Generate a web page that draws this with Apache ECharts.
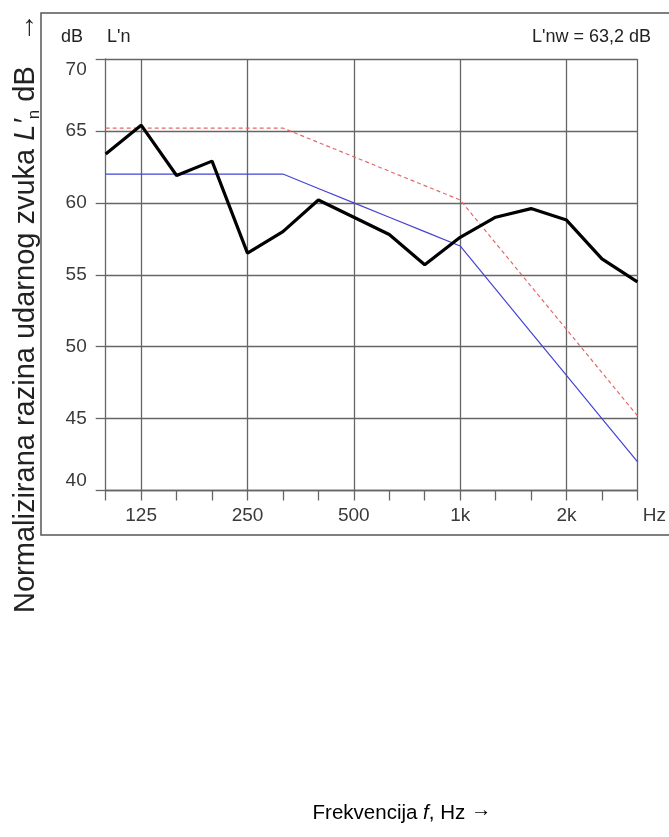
<!DOCTYPE html>
<html>
<head>
<meta charset="utf-8">
<script src="https://cdn.jsdelivr.net/npm/echarts@6/dist/echarts.min.js"></script>
<style>
html,body{margin:0;padding:0;background:#fff;}
#chart{width:669px;height:837px;}
</style>
</head>
<body>
<div id="chart"></div>
<script>
// Third-octave band centre frequencies (Hz)
var frequencies = ['100','125','160','200','250','315','400','500','630','800','1000','1250','1600','2000','2500','3150'];
// Tick labels shown under the x axis
var xTickLabels = ['', '125', '', '', '250', '', '', '500', '', '', '1k', '', '', '2k', '', 'Hz'];
// Measured normalized impact sound level L'n (dB)
var measuredLn = [63.4, 65.4, 61.9, 62.9, 56.5, 58.0, 60.2, 59.0, 57.8, 55.7, 57.6, 59.0, 59.6, 58.8, 56.1, 54.5];
// Reference curve (blue)
var referenceCurve = [62, 62, 62, 62, 62, 62, 61, 60, 59, 58, 57, 54, 51, 48, 45, 42];
// Shifted reference curve (red dashed)
var shiftedCurve = [65.2, 65.2, 65.2, 65.2, 65.2, 65.2, 64.2, 63.2, 62.2, 61.2, 60.2, 57.2, 54.2, 51.2, 48.2, 45.2];
// Y axis ticks
var yMin = 40, yMax = 70, yStep = 5;

var FONT = 'Liberation Sans, Arial, sans-serif';
var chart = echarts.init(document.getElementById('chart'), null, {renderer: 'canvas'});
var gridColor = '#666';
var labelColor = '#3a3a3a';

chart.setOption({
  animation: false,
  backgroundColor: '#fff',
  grid: {left: 105.7, right: 27.3, top: 59, bottom: 346.5, containLabel: false},
  xAxis: {
    type: 'category',
    data: frequencies,
    boundaryGap: false,
    axisLine: {show: true, lineStyle: {color: gridColor, width: 1.3}},
    axisTick: {show: true, interval: 0, length: 10, lineStyle: {color: gridColor, width: 1.3}},
    axisLabel: {
      interval: 0, margin: 16, color: labelColor, fontFamily: FONT, fontSize: 19,
      formatter: function (v, i) {
        var t = xTickLabels[i];
        if (t === 'Hz') return '{hz|Hz}';
        return t;
      },
      rich: {hz: {fontSize: 19, fontFamily: FONT, color: labelColor, padding: [0, 0, 0, 34]}}
    },
    splitLine: {
      show: true,
      interval: function (idx) { return idx % 3 === 1 || idx === 15; },
      lineStyle: {color: gridColor, width: 1.3}
    }
  },
  yAxis: {
    type: 'value',
    min: yMin, max: yMax, interval: yStep,
    axisLine: {show: true, lineStyle: {color: gridColor, width: 1.3}},
    axisTick: {show: true, length: 10, lineStyle: {color: gridColor, width: 1.3}},
    axisLabel: {
      margin: 19, color: labelColor, fontFamily: FONT, fontSize: 19,
      formatter: function (v) {
        if (v === yMax) return '{t|' + v + '}';
        if (v === yMin) return '{b|' + v + '}';
        return '{m|' + v + '}';
      },
      rich: {
        t: {fontSize: 19, fontFamily: FONT, color: labelColor, padding: [22, 0, 0, 0]},
        b: {fontSize: 19, fontFamily: FONT, color: labelColor, padding: [0, 0, 20, 0]},
        m: {fontSize: 19, fontFamily: FONT, color: labelColor}
      }
    },
    splitLine: {show: true, lineStyle: {color: gridColor, width: 1.3}}
  },
  series: [
    {
      name: 'shifted', type: 'line', data: shiftedCurve, symbol: 'none', z: 3,
      lineStyle: {color: '#e46a6a', width: 1.2, type: [4, 3]}
    },
    {
      name: 'reference', type: 'line', data: referenceCurve, symbol: 'none', z: 4,
      lineStyle: {color: '#4444d4', width: 1.2}
    },
    {
      name: 'measured', type: 'line', data: measuredLn, symbol: 'none', z: 5,
      lineStyle: {color: '#000', width: 3.2}
    }
  ],
  graphic: [
    {type: 'rect', z: -1, shape: {x: 41, y: 13, width: 700, height: 522},
     style: {fill: 'none', stroke: '#555', lineWidth: 1.5}},
    {type: 'text', x: 61, y: 37, style: {text: 'dB', font: '18px ' + FONT, fill: '#222', align: 'left', verticalAlign: 'middle'}},
    {type: 'text', x: 107, y: 37, style: {text: "L'n", font: '18px ' + FONT, fill: '#222', align: 'left', verticalAlign: 'middle'}},
    {type: 'text', x: 651, y: 37, style: {text: "L'nw = 63,2 dB", font: '18px ' + FONT, fill: '#222', align: 'right', verticalAlign: 'middle'}},
    {type: 'text', x: 26, y: 313, rotation: Math.PI / 2,
     style: {
       text: '{r|Normalizirana razina udarnog zvuka }{i|L\u2032}{s|n}{r| dB   \u2192}',
       align: 'center', verticalAlign: 'middle', fill: '#222',
       rich: {
         r: {fontSize: 29, fontFamily: FONT, color: '#222', lineHeight: 34},
         i: {fontSize: 29, fontFamily: FONT, fontStyle: 'italic', color: '#222', lineHeight: 34},
         s: {fontSize: 17, fontFamily: FONT, color: '#222', lineHeight: 34, verticalAlign: 'bottom', padding: [15, 0, 0, 0]}
       }
     }},
    {type: 'text', x: 402, y: 813,
     style: {
       text: '{r|Frekvencija }{i|f}{r|, Hz }{a|\u2192}',
       align: 'center', verticalAlign: 'middle',
       rich: {
         r: {fontSize: 20.5, fontFamily: FONT, color: '#222', lineHeight: 26},
         i: {fontSize: 20.5, fontFamily: FONT, fontStyle: 'italic', color: '#222', lineHeight: 26},
         a: {fontSize: 20.5, fontFamily: FONT, color: '#222', lineHeight: 26, padding: [0, 0, 6, 0]}
       }
     }}
  ]
});
</script>
</body>
</html>
